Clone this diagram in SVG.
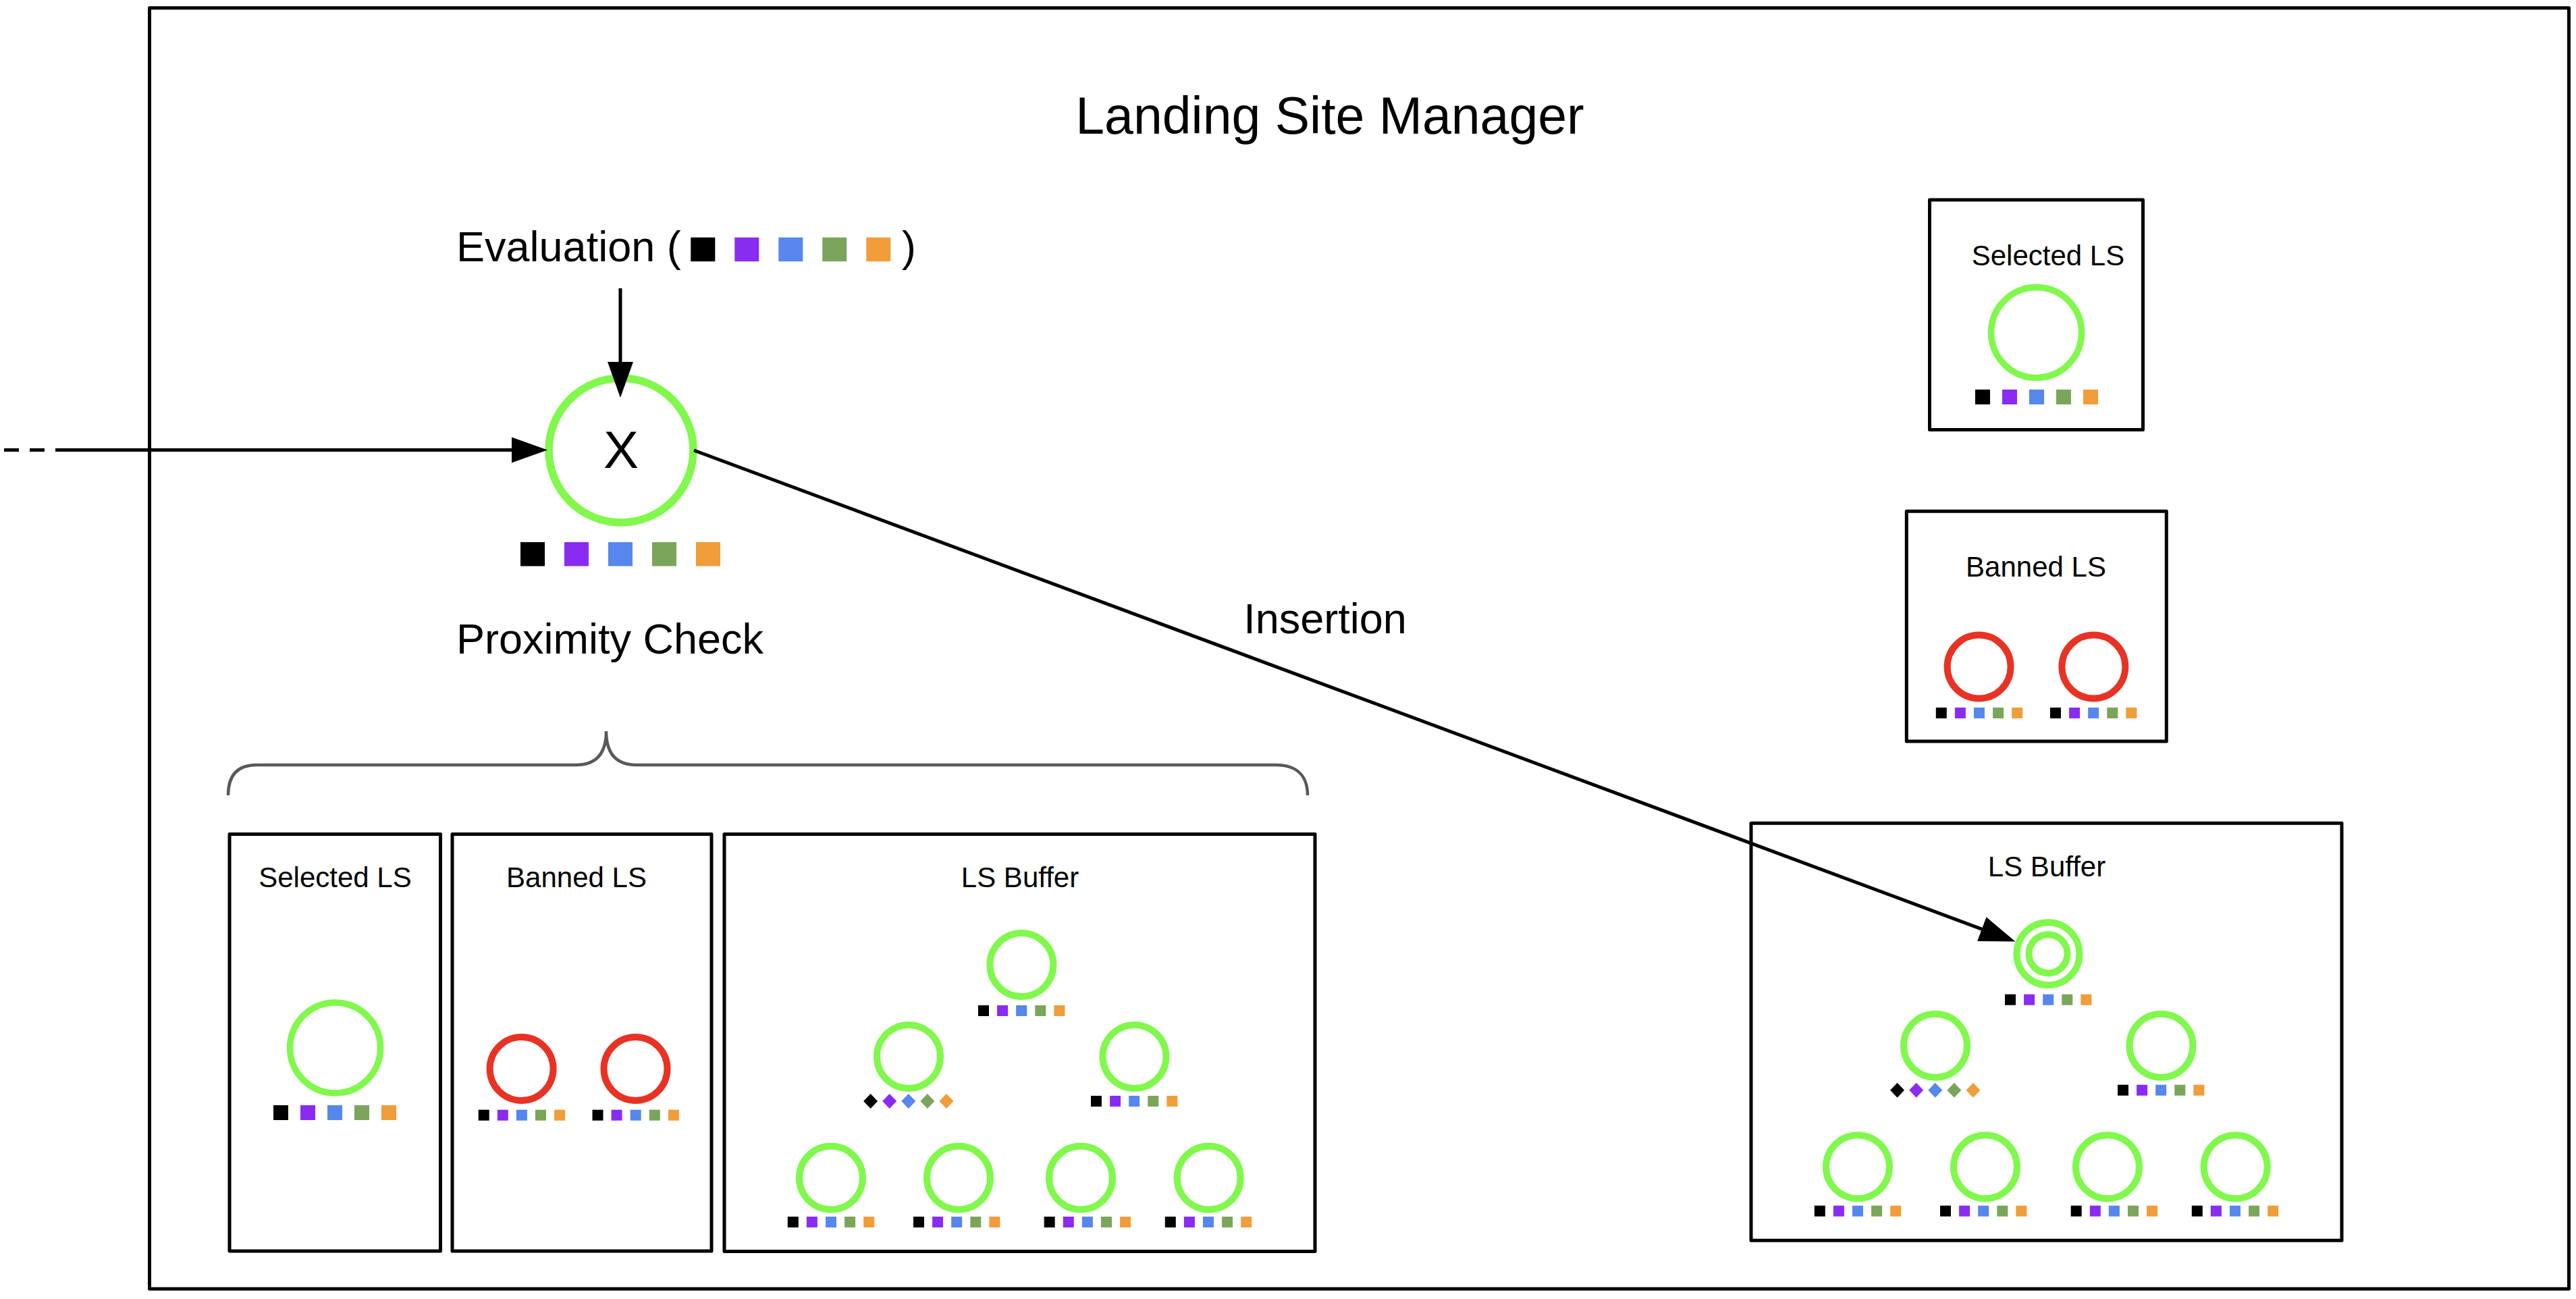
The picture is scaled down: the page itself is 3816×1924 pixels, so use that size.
<svg xmlns="http://www.w3.org/2000/svg" width="3816" height="1924" viewBox="0 0 3816 1924">
<style>
text{font-family:"Liberation Sans",Arial,Helvetica,sans-serif;fill:#000}
.box{fill:none;stroke:#000;stroke-width:5;stroke-linejoin:round}
.gc{fill:none;stroke:#80F84C;stroke-width:10}
.rc{fill:none;stroke:#E83324;stroke-width:10}
.k{fill:#000}.p{fill:#8A2BF2}.b{fill:#5587EC}.g{fill:#7BA55A}.o{fill:#F09D3A}
.lbl{font-size:42px;text-anchor:middle}
.big{font-size:63px}
.conn{stroke:#000;stroke-width:5;fill:none}
</style>
<defs>
<marker id="ah" markerUnits="userSpaceOnUse" markerWidth="54" markerHeight="38" refX="45" refY="19" orient="auto" viewBox="0 0 54 38"><path d="M0,0 L53,19 L0,38 z" fill="#000"/></marker>
<g id="rowS"><rect class="k" x="0" y="0" width="16" height="16"/><rect class="p" x="28.1" y="0" width="16" height="16"/><rect class="b" x="56.2" y="0" width="16" height="16"/><rect class="g" x="84.3" y="0" width="16" height="16"/><rect class="o" x="112.4" y="0" width="16" height="16"/></g>
<g id="rowM"><rect class="k" x="0" y="0" width="22" height="22"/><rect class="p" x="40" y="0" width="22" height="22"/><rect class="b" x="80" y="0" width="22" height="22"/><rect class="g" x="120" y="0" width="22" height="22"/><rect class="o" x="160" y="0" width="22" height="22"/></g>
<g id="rowL"><rect class="k" x="0" y="0" width="36" height="35.5"/><rect class="p" x="65" y="0" width="36" height="35.5"/><rect class="b" x="130" y="0" width="36" height="35.5"/><rect class="g" x="195" y="0" width="36" height="35.5"/><rect class="o" x="260" y="0" width="36" height="35.5"/></g>
<g id="diaS"><polygon class="k" points="-10.5,0 0,-11 10.5,0 0,11"/><polygon class="p" points="17.6,0 28.1,-11 38.6,0 28.1,11"/><polygon class="b" points="45.7,0 56.2,-11 66.7,0 56.2,11"/><polygon class="g" points="73.8,0 84.3,-11 94.8,0 84.3,11"/><polygon class="o" points="101.9,0 112.4,-11 122.9,0 112.4,11"/></g>
</defs>
<rect width="3816" height="1924" fill="#fff"/>

<g id="manager">
<rect class="box" x="221.5" y="11.7" width="3584" height="1897.3"/>
<text x="1970" y="197.6" font-size="77" text-anchor="middle">Landing Site Manager</text>
</g>

<g id="evaluation">
<text class="big" x="676" y="387">Evaluation (</text>
<use href="#rowL" x="1023.3" y="351.7"/>
<text class="big" x="1336" y="387">)</text>
</g>

<g id="x-node">
<circle cx="920" cy="667" r="107" fill="none" stroke="#80F84C" stroke-width="11.5"/>
<text x="920" y="693" font-size="78" text-anchor="middle">X</text>
<use href="#rowL" x="771" y="803"/>
</g>

<g id="proximity-check">
<text class="big" x="676" y="967.5">Proximity Check</text>
<path d="M338,1178 C338,1150 350,1133 380,1133 L853,1133 C884,1133 898,1115 898,1083 C898,1115 912,1133 943,1133 L1890,1133 C1922,1133 1937,1150 1937,1178" fill="none" stroke="#595959" stroke-width="4.5"/>
</g>

<g id="left-selected">
<rect class="box" x="340" y="1235.5" width="312.5" height="617.5"/>
<text class="lbl" x="496.5" y="1314">Selected LS</text>
<circle cx="496.6" cy="1552" r="67" fill="none" stroke="#80F84C" stroke-width="9.5"/>
<use href="#rowM" x="405" y="1637"/>
</g>

<g id="left-banned">
<rect class="box" x="670" y="1235.5" width="384" height="617.5"/>
<text class="lbl" x="854" y="1314">Banned LS</text>
<circle class="rc" cx="772.6" cy="1583" r="47"/>
<circle class="rc" cx="941.5" cy="1583" r="47"/>
<use href="#rowS" x="708.7" y="1643.7"/>
<use href="#rowS" x="877.5" y="1643.7"/>
</g>

<g id="left-buffer">
<rect class="box" x="1073" y="1235.5" width="875" height="618"/>
<text class="lbl" x="1511" y="1314">LS Buffer</text>
<circle class="gc" cx="1513.4" cy="1429" r="47"/>
<circle class="gc" cx="1346" cy="1565" r="47"/>
<circle class="gc" cx="1680.5" cy="1565" r="47"/>
<circle class="gc" cx="1231" cy="1744.6" r="47"/>
<circle class="gc" cx="1420" cy="1744.6" r="47"/>
<circle class="gc" cx="1601" cy="1744.6" r="47"/>
<circle class="gc" cx="1790.7" cy="1744.6" r="47"/>
<use href="#rowS" x="1449" y="1489"/>
<use href="#diaS" x="1289.6" y="1631"/>
<use href="#rowS" x="1616" y="1623"/>
<use href="#rowS" x="1166.8" y="1802"/>
<use href="#rowS" x="1353" y="1802"/>
<use href="#rowS" x="1546.7" y="1802"/>
<use href="#rowS" x="1725.8" y="1802"/>
</g>

<g id="right-selected">
<rect class="box" x="2858.5" y="296" width="316" height="340.5"/>
<text class="lbl" x="3034" y="393">Selected LS</text>
<circle cx="3016.6" cy="492.4" r="67" fill="none" stroke="#80F84C" stroke-width="9.5"/>
<use href="#rowM" x="2926" y="577"/>
</g>

<g id="right-banned">
<rect class="box" x="2824.3" y="757.3" width="385" height="340.7"/>
<text class="lbl" x="3016" y="854">Banned LS</text>
<circle class="rc" cx="2931.6" cy="987.6" r="47"/>
<circle class="rc" cx="3101.4" cy="987.6" r="47"/>
<use href="#rowS" x="2867.8" y="1048"/>
<use href="#rowS" x="3037" y="1048"/>
</g>

<g id="right-buffer" transform="translate(1521,-16.3)">
<rect class="box" x="1073" y="1235.5" width="875" height="618"/>
<text class="lbl" x="1511" y="1314">LS Buffer</text>
<circle class="gc" cx="1513" cy="1429" r="46.5"/>
<circle class="gc" cx="1513" cy="1429" r="28.5"/>
<circle class="gc" cx="1346" cy="1565" r="47"/>
<circle class="gc" cx="1680.5" cy="1565" r="47"/>
<circle class="gc" cx="1231" cy="1744.6" r="47"/>
<circle class="gc" cx="1420" cy="1744.6" r="47"/>
<circle class="gc" cx="1601" cy="1744.6" r="47"/>
<circle class="gc" cx="1790.7" cy="1744.6" r="47"/>
<use href="#rowS" x="1449" y="1489"/>
<use href="#diaS" x="1289.6" y="1631"/>
<use href="#rowS" x="1616" y="1623"/>
<use href="#rowS" x="1166.8" y="1802"/>
<use href="#rowS" x="1353" y="1802"/>
<use href="#rowS" x="1546.7" y="1802"/>
<use href="#rowS" x="1725.8" y="1802"/>
</g>

<g id="connectors">
<line class="conn" x1="6" y1="666.5" x2="100" y2="666.5" stroke-dasharray="22 16"/>
<line class="conn" x1="97" y1="666.5" x2="803" y2="666.5" marker-end="url(#ah)"/>
<line class="conn" x1="919" y1="427" x2="919" y2="581" marker-end="url(#ah)"/>
<line class="conn" x1="1028" y1="667" x2="2977.9" y2="1391.8" marker-end="url(#ah)"/>
<text class="big" x="1963" y="938" text-anchor="middle">Insertion</text>
</g>
</svg>
